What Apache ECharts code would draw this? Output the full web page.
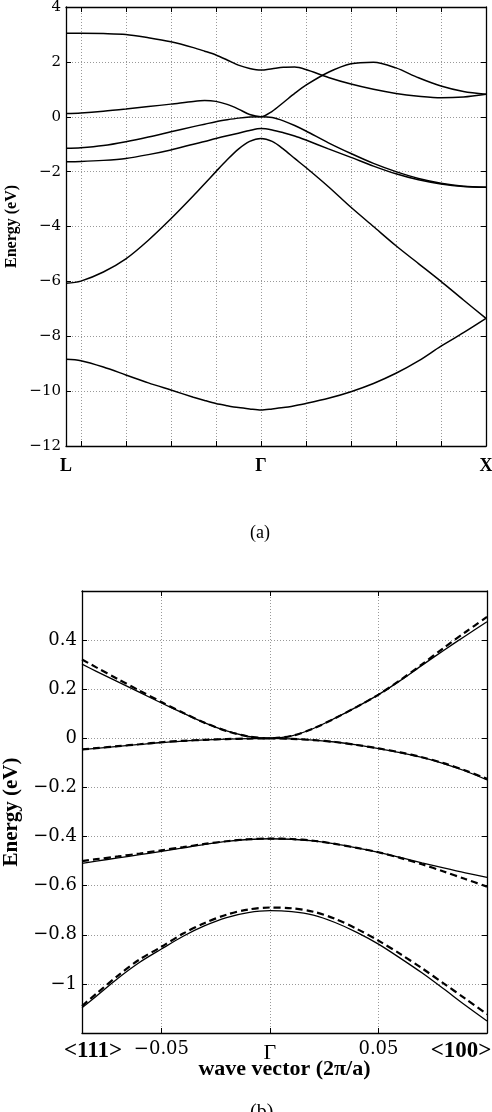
<!DOCTYPE html>
<html><head><meta charset="utf-8">
<script src="https://cdn.jsdelivr.net/npm/echarts@6/dist/echarts.min.js"></script>
<style>html,body{margin:0;padding:0;background:#fff}#c{width:492px;height:1112px}</style>
</head><body><div id="c"></div>
<script>
// ---------- Panel (a): full band structure L - Gamma - X ----------
const kA = [-0.866,-0.8,-0.7,-0.6,-0.5,-0.4,-0.3,-0.25,-0.2,-0.15,-0.1,-0.05,0,0.05,0.1,0.15,0.2,0.3,0.4,0.5,0.6,0.7,0.8,0.9,1.0];
const bandA1 = [3.04,3.04,3.03,3.0,2.88,2.73,2.52,2.39,2.25,2.07,1.88,1.76,1.70,1.75,1.80,1.81,1.72,1.43,1.19,1.0,0.85,0.75,0.69,0.72,0.82];
const bandA2 = [0.12,0.14,0.2,0.28,0.37,0.46,0.56,0.59,0.56,0.45,0.28,0.08,0,0.2,0.52,0.85,1.15,1.62,1.93,1.99,1.78,1.42,1.12,0.92,0.82];
const bandA3 = [-1.15,-1.13,-1.05,-0.91,-0.74,-0.55,-0.36,-0.27,-0.18,-0.11,-0.05,-0.01,0,-0.03,-0.15,-0.32,-0.52,-0.95,-1.34,-1.70,-2.0,-2.25,-2.42,-2.53,-2.57];
const bandA4 = [-1.64,-1.63,-1.59,-1.52,-1.38,-1.21,-1.0,-0.9,-0.79,-0.69,-0.6,-0.5,-0.43,-0.48,-0.58,-0.7,-0.85,-1.17,-1.48,-1.80,-2.08,-2.30,-2.45,-2.54,-2.57];
const bandA5 = [-6.07,-5.99,-5.66,-5.18,-4.5,-3.72,-2.88,-2.44,-2.0,-1.57,-1.18,-0.9,-0.79,-0.9,-1.18,-1.52,-1.85,-2.55,-3.3,-4.0,-4.7,-5.35,-6.0,-6.68,-7.35];
const bandA6 = [-8.84,-8.89,-9.12,-9.41,-9.70,-9.96,-10.22,-10.34,-10.45,-10.53,-10.6,-10.65,-10.69,-10.65,-10.6,-10.53,-10.45,-10.26,-10.02,-9.72,-9.35,-8.90,-8.36,-7.87,-7.35];
const xTicksA = [-0.8,-0.6,-0.4,-0.2,0,0.2,0.4,0.6,0.8,1.0];
const xLabelPosA = [-0.866, 0, 1];
const xLabelTextA = ['L', 'Γ', 'X'];

// ---------- Panel (b): zoom near Gamma, solid vs dashed ----------
const kB = [-0.0866,-0.08,-0.07,-0.06,-0.05,-0.04,-0.03,-0.02,-0.01,0,0.01,0.02,0.03,0.04,0.05,0.06,0.07,0.08,0.09,0.1];
const hhSolid = [0.302,0.273,0.23,0.187,0.144,0.103,0.063,0.03,0.008,0,0.01,0.04,0.082,0.128,0.178,0.235,0.297,0.358,0.417,0.475];
const hhDash  = [0.321,0.289,0.241,0.194,0.148,0.104,0.063,0.03,0.008,0,0.01,0.04,0.082,0.128,0.178,0.237,0.301,0.368,0.432,0.495];
const lhSolid = [-0.046,-0.041,-0.033,-0.025,-0.017,-0.011,-0.006,-0.003,-0.001,0,-0.002,-0.007,-0.015,-0.027,-0.042,-0.058,-0.078,-0.103,-0.133,-0.169];
const lhDash  = [-0.045,-0.040,-0.032,-0.024,-0.016,-0.010,-0.006,-0.003,-0.001,0,-0.002,-0.007,-0.015,-0.027,-0.041,-0.057,-0.077,-0.101,-0.131,-0.165];
const soSolid = [-0.509,-0.500,-0.487,-0.474,-0.46,-0.446,-0.432,-0.42,-0.412,-0.409,-0.411,-0.418,-0.43,-0.446,-0.464,-0.485,-0.507,-0.528,-0.548,-0.566];
const soDash  = [-0.500,-0.492,-0.481,-0.469,-0.456,-0.443,-0.430,-0.419,-0.411,-0.408,-0.410,-0.417,-0.43,-0.446,-0.464,-0.487,-0.513,-0.542,-0.573,-0.604];
const cbSolid = [-1.097,-1.05,-0.977,-0.912,-0.858,-0.806,-0.763,-0.73,-0.71,-0.702,-0.706,-0.72,-0.75,-0.79,-0.838,-0.895,-0.955,-1.02,-1.087,-1.151];
const cbDash  = [-1.09,-1.04,-0.966,-0.9,-0.849,-0.795,-0.752,-0.718,-0.697,-0.689,-0.692,-0.706,-0.735,-0.776,-0.824,-0.878,-0.936,-0.998,-1.06,-1.124];
const xTicksB = [-0.05, 0, 0.05, 0.1];
const xLabelPosB = [-0.0866, -0.05, 0, 0.05, 0.1];
const xLabelTextB = ['{b|<111>}', '−0.05', '{g|Γ}', '0.05', '{c|<100>}'];

const serif = "'Liberation Serif','Times New Roman',serif";
const dserif = "'DejaVu Serif',serif";

function pairs(xs, ys) { return xs.map((x, i) => [x, ys[i]]); }
function fmtNum(v) { const r = Math.round(v * 100) / 100; return (r < 0 ? '−' : '') + String(Math.abs(r)); }
function pick(pos, txt, tol) {
  return v => { const i = pos.findIndex(p => Math.abs(p - v) < tol); return i >= 0 ? txt[i] : ''; };
}

const grid = [
  { left: 66, top: 7, width: 420, height: 439, outerBoundsMode: 'none', containLabel: false },
  { left: 82, top: 591, width: 405, height: 442, outerBoundsMode: 'none', containLabel: false }
];
const gridLine = { show: true, lineStyle: { color: '#999', width: 1, type: [1, 2] } };
const axLine = { show: true, onZero: false, lineStyle: { color: '#000', width: 1.3 } };
function tickIn(custom) {
  const t = { show: true, inside: true, length: 5, lineStyle: { color: '#000', width: 1 } };
  if (custom) t.customValues = custom;
  return t;
}

function frameX(gi, min, max, interval, custom) {
  return { type: 'value', gridIndex: gi, position: 'top', min, max, interval,
    axisLine: axLine, axisTick: tickIn(custom), axisLabel: { show: false }, splitLine: { show: false } };
}
function frameY(gi, min, max, interval) {
  return { type: 'value', gridIndex: gi, position: 'right', min, max, interval,
    axisLine: axLine, axisTick: tickIn(), axisLabel: { show: false }, splitLine: { show: false } };
}

const xAxis = [
  { type: 'value', gridIndex: 0, min: -0.866, max: 1, interval: 0.2, position: 'bottom',
    axisLine: axLine, axisTick: tickIn(xTicksA), splitLine: gridLine,
    axisLabel: { margin: 11, color: '#000', fontFamily: serif, fontWeight: 'bold', fontSize: 18,
      customValues: xLabelPosA, formatter: pick(xLabelPosA, xLabelTextA, 1e-3) } },
  frameX(0, -0.866, 1, 0.2, xTicksA),
  { type: 'value', gridIndex: 1, min: -0.0866, max: 0.1, interval: 0.05, position: 'bottom',
    axisLine: axLine, axisTick: tickIn(xTicksB), splitLine: gridLine,
    name: 'wave vector (2π/a)', nameLocation: 'middle', nameGap: 25, nameMoveOverlap: false,
    nameTextStyle: { color: '#000', fontFamily: serif, fontWeight: 'bold', fontSize: 22 },
    axisLabel: { margin: 7, color: '#000', fontFamily: dserif, fontSize: 18,
      customValues: xLabelPosB, formatter: pick(xLabelPosB, xLabelTextB, 1e-4),
      rich: {
        b: { fontFamily: serif, fontWeight: 'bold', fontSize: 23, color: '#000', padding: [0, 0, 0, 22] },
        c: { fontFamily: serif, fontWeight: 'bold', fontSize: 23, color: '#000', padding: [0, 52, 0, 0] },
        g: { fontFamily: serif, fontSize: 22, color: '#000', padding: [2, 0, 0, 0] }
      } } },
  frameX(1, -0.0866, 0.1, 0.05, xTicksB)
];

const yAxis = [
  { type: 'value', gridIndex: 0, min: -12, max: 4, interval: 2, position: 'left',
    axisLine: axLine, axisTick: tickIn(), splitLine: gridLine,
    name: 'Energy (eV)', nameLocation: 'middle', nameGap: 46, nameRotate: 90, nameMoveOverlap: false,
    nameTextStyle: { color: '#000', fontFamily: serif, fontWeight: 'bold', fontSize: 16 },
    axisLabel: { margin: 5, color: '#000', fontFamily: dserif, fontSize: 15, formatter: fmtNum } },
  frameY(0, -12, 4, 2),
  { type: 'value', gridIndex: 1, min: -1.2, max: 0.6, interval: 0.2, position: 'left',
    axisLine: axLine, axisTick: tickIn(), splitLine: gridLine,
    name: 'Energy (eV)', nameLocation: 'middle', nameGap: 60, nameRotate: 90, nameMoveOverlap: false,
    nameTextStyle: { color: '#000', fontFamily: serif, fontWeight: 'bold', fontSize: 21 },
    axisLabel: { margin: 5, color: '#000', fontFamily: dserif, fontSize: 18, showMinLabel: false, showMaxLabel: false,
      formatter: v => fmtNum(Math.round(v * 10) / 10) } },
  frameY(1, -1.2, 0.6, 0.2)
];

function lineA(ys) {
  return { type: 'line', xAxisIndex: 0, yAxisIndex: 0, data: pairs(kA, ys), showSymbol: false, smooth: 0.3,
    lineStyle: { color: '#000', width: 1.5 }, itemStyle: { color: '#000' } };
}
function lineB(ys, dashed) {
  return { type: 'line', xAxisIndex: 2, yAxisIndex: 2, data: pairs(kB, ys), showSymbol: false, smooth: 0.3,
    lineStyle: dashed ? { color: '#000', width: 2.2, type: [7, 4] } : { color: '#000', width: 1.3 },
    itemStyle: { color: '#000' } };
}

const series = [
  lineA(bandA1), lineA(bandA2), lineA(bandA3), lineA(bandA4), lineA(bandA5), lineA(bandA6),
  lineB(hhDash, true), lineB(hhSolid, false),
  lineB(lhDash, true), lineB(lhSolid, false),
  lineB(soDash, true), lineB(soSolid, false),
  lineB(cbDash, true), lineB(cbSolid, false)
];

const chart = echarts.init(document.getElementById('c'), null, { renderer: 'canvas' });
chart.setOption({
  animation: false,
  backgroundColor: '#fff',
  grid, xAxis, yAxis, series,
  graphic: [
    { type: 'text', left: 250, top: 524, style: { text: '(a)', font: "18px 'Liberation Serif', serif", fill: '#000' } },
    { type: 'text', left: 250, top: 1103, style: { text: '(b)', font: "20px 'Liberation Serif', serif", fill: '#000' } }
  ]
});
</script>
</body></html>
